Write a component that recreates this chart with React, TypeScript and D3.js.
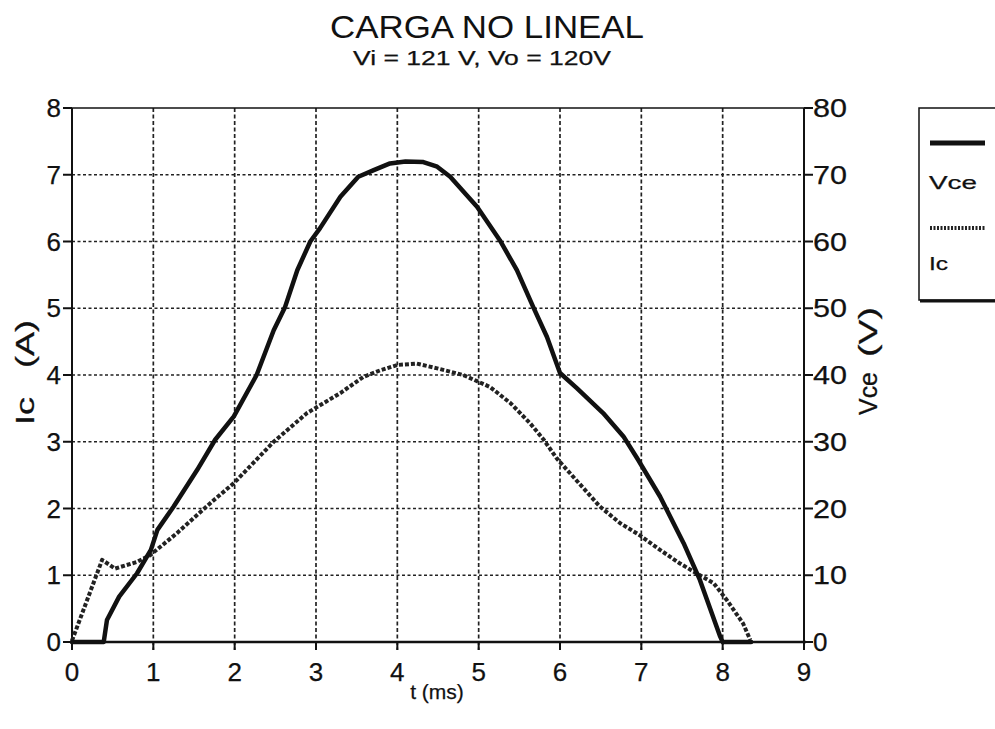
import React from "react";
import * as d3 from "d3";

const xTicks = [0, 1, 2, 3, 4, 5, 6, 7, 8, 9];
const leftTicks = [0, 1, 2, 3, 4, 5, 6, 7, 8];
const rightTicks = [0, 10, 20, 30, 40, 50, 60, 70, 80];

// Vce (V), right axis
const tVce = [0, 0.39, 0.43, 0.58, 0.8, 0.97, 1.05, 1.25, 1.54, 1.76, 1.99, 2.27, 2.48, 2.62, 2.77, 2.93, 3.05, 3.3, 3.52, 3.71, 3.91, 4.1, 4.32, 4.49, 4.65, 4.98, 5.26, 5.47, 5.67, 5.84, 6.0, 6.21, 6.53, 6.78, 6.96, 7.23, 7.52, 7.72, 7.97, 8.0, 8.35];
const vce = [0, 0, 3.3, 6.8, 10.3, 13.8, 16.8, 20.3, 25.8, 30.3, 33.8, 40, 46.7, 50.2, 55.7, 60, 62, 66.7, 69.7, 70.7, 71.7, 72, 71.9, 71.2, 69.7, 65.2, 60.2, 55.7, 50.2, 45.7, 40.3, 38, 34.3, 30.8, 27.3, 21.8, 14.8, 9.3, 0.8, 0, 0];

// Ic (A), left axis
const tIc = [0, 0.37, 0.53, 0.8, 0.96, 1.29, 1.7, 1.99, 2.48, 2.89, 3.3, 3.58, 3.79, 4.0, 4.24, 4.49, 4.81, 5.14, 5.39, 5.63, 5.8, 5.96, 6.49, 6.74, 6.98, 7.23, 7.47, 7.72, 7.89, 8.05, 8.25, 8.34];
const ic = [0.02, 1.23, 1.1, 1.2, 1.3, 1.63, 2.08, 2.38, 3.0, 3.43, 3.73, 3.97, 4.07, 4.15, 4.17, 4.1, 4.0, 3.82, 3.58, 3.28, 3.03, 2.75, 2.03, 1.78, 1.6, 1.38, 1.18, 1.0, 0.88, 0.63, 0.28, 0.03];

const seriesNames = ["Vce", "Ic"];

const FONT = "'Liberation Sans', Arial, Helvetica, sans-serif";

export default function App() {
  const W = 995, H = 729;
  const x0 = 72, x1 = 804, y0 = 642, y1 = 108;
  const x = d3.scaleLinear().domain([0, 9]).range([x0, x1]);
  const yL = d3.scaleLinear().domain([0, 8]).range([y0, y1]);
  const yR = d3.scaleLinear().domain([0, 80]).range([y0, y1]);

  const vcePath = d3.line<number>().x((_, i) => x(tVce[i])).y((d) => yR(d)).curve(d3.curveLinear)(vce) || "";
  const icPath = d3.line<number>().x((_, i) => x(tIc[i])).y((d) => yL(d)).curve(d3.curveLinear)(ic) || "";

  const ink = { stroke: "#111", strokeWidth: 0.25 } as const;

  return (
    <svg width={W} height={H} style={{ position: "absolute", left: 0, top: 0, background: "#fff" }} fontFamily={FONT}>
      <rect x={0} y={0} width={W} height={H} fill="#fff" />
      {/* Title */}
      <text x={487} y={38} textAnchor="middle" fontSize={32} fill="#111" textLength={314} lengthAdjust="spacingAndGlyphs">CARGA NO LINEAL</text>
      <text x={482} y={65} textAnchor="middle" fontSize={21} fill="#111" {...ink} textLength={258} lengthAdjust="spacingAndGlyphs">Vi = 121 V, Vo = 120V</text>

      {/* Grid */}
      {leftTicks.filter((v) => v > 0 && v < 8).map((v) => (
        <line key={"gh" + v} x1={x0} x2={x1} y1={yL(v)} y2={yL(v)} stroke="#222" strokeWidth={1.7} strokeDasharray="3,2.5" />
      ))}
      {xTicks.filter((v) => v > 0 && v < 9).map((v) => (
        <line key={"gv" + v} x1={x(v)} x2={x(v)} y1={y1} y2={y0 + 8} stroke="#222" strokeWidth={1.7} strokeDasharray="4,2.5" />
      ))}

      {/* Frame */}
      <line x1={x0} x2={x1} y1={y1} y2={y1} stroke="#111" strokeWidth={1.5} />
      <line x1={x0} x2={x0} y1={y1} y2={y0} stroke="#111" strokeWidth={2} />
      <line x1={x1} x2={x1} y1={y1} y2={y0} stroke="#111" strokeWidth={2} />
      <line x1={x0 - 2} x2={x1 + 2} y1={y0} y2={y0} stroke="#111" strokeWidth={2.5} />

      {/* Left ticks */}
      {leftTicks.map((v) => (
        <g key={"lt" + v}>
          <line x1={x0 - 9} x2={x0} y1={yL(v)} y2={yL(v)} stroke="#111" strokeWidth={2} />
          <text x={61} y={yL(v) + 9} textAnchor="end" fontSize={26} fill="#111" {...ink}>{v}</text>
        </g>
      ))}
      {/* Right ticks */}
      {rightTicks.map((v) => (
        <g key={"rt" + v}>
          <line x1={x1} x2={x1 + 9} y1={yR(v)} y2={yR(v)} stroke="#111" strokeWidth={2} />
          <text x={813} y={yR(v) + 9} textAnchor="start" fontSize={26} fill="#111" {...ink} textLength={v > 0 ? 34 : undefined} lengthAdjust="spacingAndGlyphs">{v}</text>
        </g>
      ))}
      {/* Bottom ticks */}
      {xTicks.map((v) => (
        <g key={"bt" + v}>
          <line x1={x(v)} x2={x(v)} y1={y0} y2={y0 + 8} stroke="#111" strokeWidth={2} />
          <text x={x(v)} y={681} textAnchor="middle" fontSize={26} fill="#111" {...ink}>{v}</text>
        </g>
      ))}

      {/* Axis titles */}
      <text x={437} y={699} textAnchor="middle" fontSize={21} fill="#111" {...ink}>t (ms)</text>
      <g transform="translate(34,372) rotate(-90)">
        <text x={-53} y={0} fontSize={25} fill="#111" {...ink} textLength={28} lengthAdjust="spacingAndGlyphs">Ic</text>
        <text x={4} y={0} fontSize={25} fill="#111" {...ink} textLength={48} lengthAdjust="spacingAndGlyphs">(A)</text>
      </g>
      <g transform="translate(877,362) rotate(-90)">
        <text x={-53} y={0} fontSize={25} fill="#111" {...ink} textLength={43} lengthAdjust="spacingAndGlyphs">Vce</text>
        <text x={5} y={0} fontSize={25} fill="#111" {...ink} textLength={50} lengthAdjust="spacingAndGlyphs">(V)</text>
      </g>

      {/* Series */}
      <path d={icPath} fill="none" stroke="#222" strokeWidth={4} strokeDasharray="4,2" strokeLinejoin="round" />
      <path d={vcePath} fill="none" stroke="#111" strokeWidth={4.5} strokeLinejoin="round" strokeLinecap="round" />

      {/* Legend */}
      <rect x={919} y={108} width={100} height={192} fill="#fff" stroke="#111" strokeWidth={1.5} />
      <line x1={920} x2={995} y1={301} y2={301} stroke="#111" strokeWidth={3} />
      <line x1={930} x2={985} y1={143} y2={143} stroke="#111" strokeWidth={5} />
      <text x={929} y={189} fontSize={19} fill="#111" {...ink} textLength={48} lengthAdjust="spacingAndGlyphs">{seriesNames[0]}</text>
      <line x1={930} x2={985} y1={228} y2={228} stroke="#222" strokeWidth={4} strokeDasharray="2,1.5" />
      <text x={929} y={270} fontSize={19} fill="#111" {...ink} textLength={19} lengthAdjust="spacingAndGlyphs">{seriesNames[1]}</text>
    </svg>
  );
}
